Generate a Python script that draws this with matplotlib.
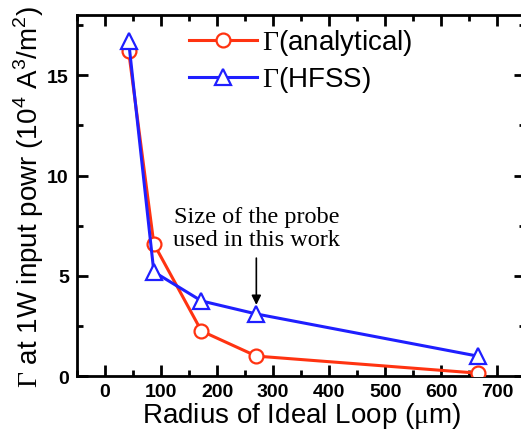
import matplotlib
matplotlib.use("Agg")
import matplotlib.pyplot as plt
from matplotlib.ticker import MultipleLocator

# data
radius = [42, 87, 172, 270, 665]
gamma_analytical = [16.2, 6.6, 2.25, 1.0, 0.15]
gamma_hfss = [16.7, 5.2, 3.75, 3.1, 1.0]
x_ticks = [0, 100, 200, 300, 400, 500, 600, 700]
y_ticks = [0, 5, 10, 15]
probe_radius = 270

plt.rcParams['font.family'] = ['Liberation Sans', 'DejaVu Sans']
plt.rcParams['mathtext.fontset'] = 'custom'
plt.rcParams['mathtext.rm'] = 'Liberation Serif'
plt.rcParams['mathtext.sf'] = 'Liberation Sans'

fig = plt.figure(figsize=(5.21, 4.35), dpi=100)
ax = fig.add_axes([0.148, 0.133, 0.86, 0.830])

red = '#ff3311'
blue = '#1f1fff'
ax.plot(radius, gamma_analytical, '-o', color=red, lw=2.2, ms=10, mfc='white',
        mew=1.6, label=r'$\mathrm{\Gamma}$(analytical)', zorder=3)
ax.plot(radius, gamma_hfss, '-^', color=blue, lw=2.2, ms=11, mfc='white',
        mew=1.6, label=r'$\mathrm{\Gamma}$(HFSS)', zorder=3)

ax.set_xlim(-50, 750)
ax.set_ylim(0, 18)
ax.set_xticks(x_ticks)
ax.set_yticks(y_ticks)
ax.xaxis.set_minor_locator(MultipleLocator(50))
ax.yaxis.set_minor_locator(MultipleLocator(2.5))
ax.tick_params(which='both', direction='in', top=True, right=True, width=2)
ax.tick_params(which='major', length=8, labelsize=14, pad=6)
ax.tick_params(axis='x', which='major', pad=5)
ax.tick_params(which='minor', length=4)
for lab in ax.get_xticklabels() + ax.get_yticklabels():
    lab.set_fontweight('bold')
for sp in ax.spines.values():
    sp.set_linewidth(2)

ax.set_xlabel(r'Radius of Ideal Loop ($\mathrm{\mu}$m)', fontsize=20, labelpad=0)
ax.set_ylabel(r'$\mathrm{\Gamma}$ at 1W input powr (10$^{\mathsf{4}}$ A$^{\mathsf{3}}$/m$^{\mathsf{2}}$)',
              fontsize=20, labelpad=1)

ax.annotate('Size of the probe\nused in this work',
            xy=(probe_radius, 3.55), xytext=(probe_radius, 6.3),
            ha='center', va='bottom', fontsize=17.5, family='Liberation Serif',
            linespacing=1.1,
            arrowprops=dict(arrowstyle='-|>', color='black', lw=1.2,
                            mutation_scale=14, shrinkA=4, shrinkB=0))

ax.legend(loc='upper left', bbox_to_anchor=(0.207, 1.02), frameon=False,
          fontsize=20, handlelength=2.45, handletextpad=0.15, labelspacing=0.25,
          borderaxespad=0.3)

fig.savefig('out.png', dpi=100)
